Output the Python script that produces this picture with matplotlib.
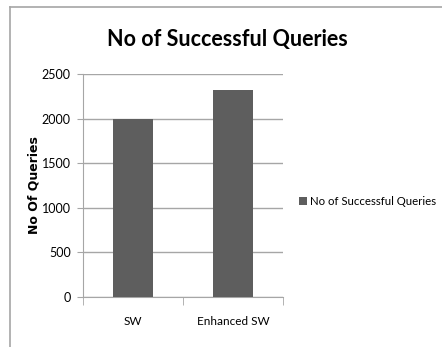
import numpy as np
import matplotlib.pyplot as plt
from matplotlib.lines import Line2D

categories = ['SW', 'Enhanced SW']
queries = [1990, 2320]
yticks = [0, 500, 1000, 1500, 2000, 2500]

plt.rcParams['font.family'] = ['Lato', 'DejaVu Sans']
grey = '#a6a6a6'
barcol = '#5e5e5e'

fig = plt.figure(figsize=(4.42, 3.47), dpi=100)
ax = fig.add_axes([0.188, 0.144, 0.4525, 0.643])

x = np.arange(len(categories))
ax.bar(x, queries, width=0.4, color=barcol, zorder=3,
       label='No of Successful Queries')

ax.set_xlim(-0.5, len(categories)-0.5)
ax.set_ylim(0, 2500)
ax.set_yticks(yticks)
ax.set_yticklabels([str(v) for v in yticks], fontsize=9)
ax.yaxis.grid(True, color=grey, linewidth=1, zorder=0)

# category labels centred, tick marks between categories
ax.set_xticks(x)
ax.set_xticklabels(categories, fontsize=8.5)
ax.tick_params(axis='x', length=0, pad=14)
ax.set_xticks(np.arange(-0.5, len(categories)), minor=True)
ax.tick_params(axis='x', which='minor', length=6, color=grey, direction='out')
ax.tick_params(axis='y', length=4, color=grey, pad=5)

for s in ['top', 'right']:
    ax.spines[s].set_visible(False)
for s in ['left', 'bottom']:
    ax.spines[s].set_color(grey)

ax.set_ylabel('No Of Queries', fontsize=9, fontweight='bold',
              family='DejaVu Sans', labelpad=1)

fig.text(0.514, 0.885, 'No of Successful Queries', fontsize=15.5,
         fontweight='bold', ha='center', va='center')

ax.legend(loc='center left', bbox_to_anchor=(1.05, 0.43), frameon=False,
          fontsize=8.2, handlelength=0.7, handleheight=0.7,
          handletextpad=0.3, borderpad=0)

# chart area border (top and left)
fig.add_artist(Line2D([10/442, 1], [1-7/347, 1-7/347], color=grey, lw=1.2,
                      transform=fig.transFigure))
fig.add_artist(Line2D([10/442, 10/442], [0, 1-7/347], color=grey, lw=1.2,
                      transform=fig.transFigure))

fig.savefig('out.png', dpi=100)
